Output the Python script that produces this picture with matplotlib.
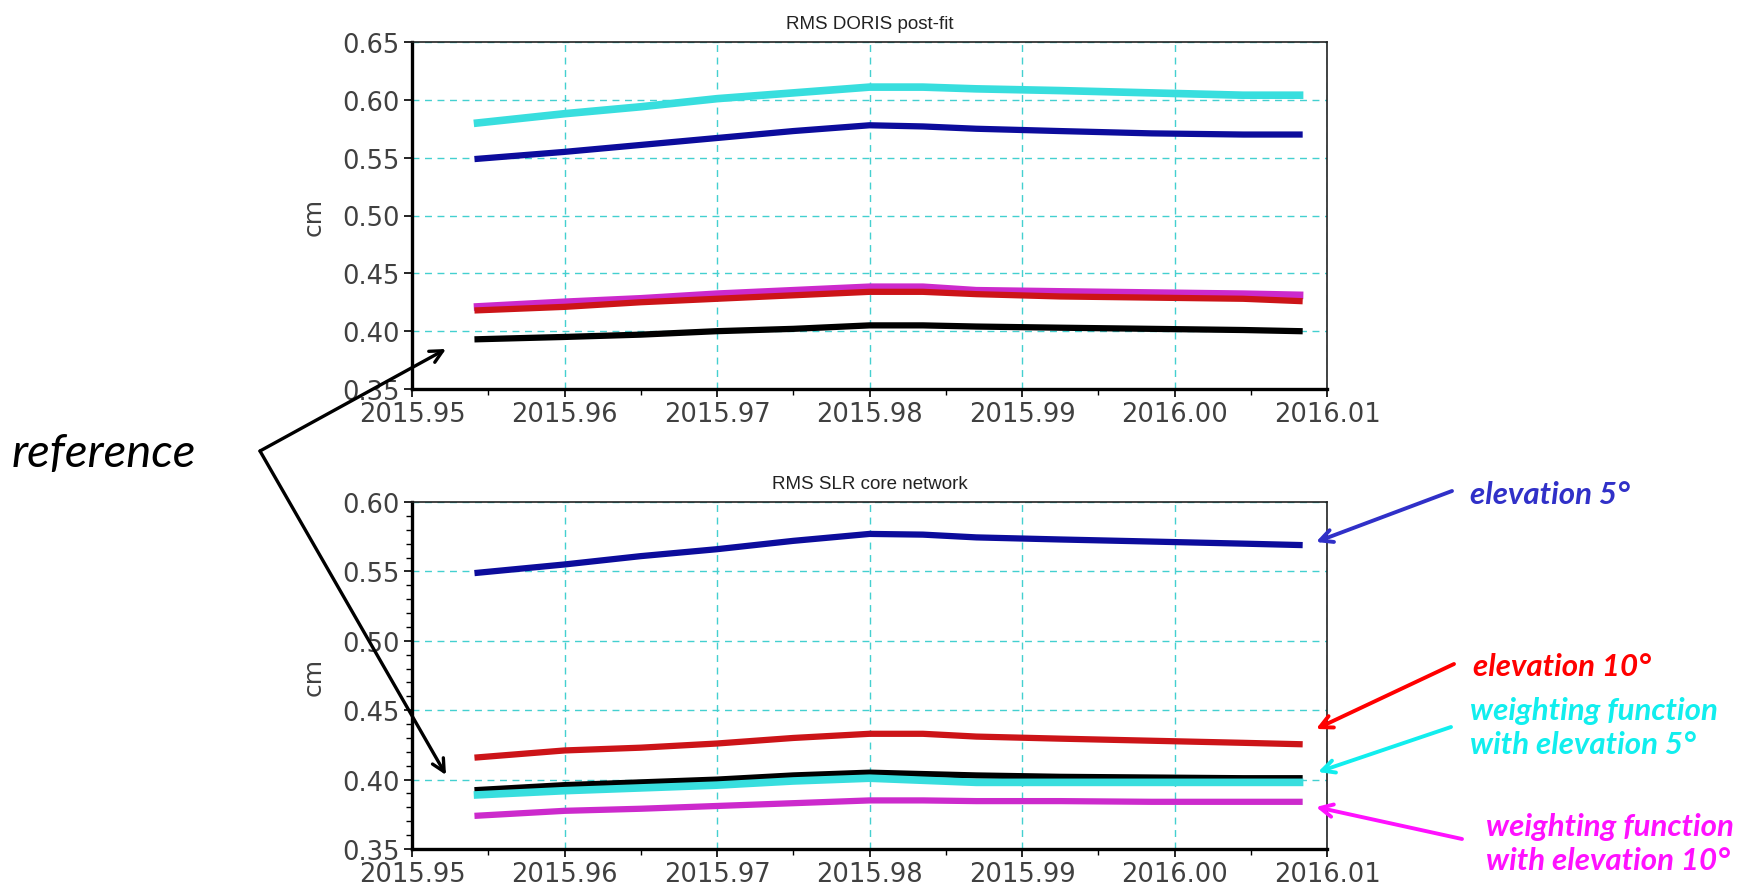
import matplotlib
matplotlib.use("Agg")
import matplotlib.pyplot as plt
from matplotlib.ticker import MultipleLocator, FormatStrFormatter

# Time axis (decimal years)
t = [2015.9543, 2015.96, 2015.965, 2015.97, 2015.975, 2015.98,
     2015.9835, 2015.987, 2015.9925, 2015.9985, 2016.0045, 2016.0082]

# RMS DORIS post-fit (cm)
doris_wf5 = [0.580, 0.588, 0.594, 0.601, 0.606, 0.611, 0.611, 0.6095, 0.608, 0.606, 0.604, 0.604]
doris_el5 = [0.549, 0.555, 0.561, 0.567, 0.573, 0.578, 0.577, 0.575, 0.573, 0.571, 0.570, 0.570]
doris_wf10 = [0.421, 0.425, 0.428, 0.432, 0.435, 0.438, 0.438, 0.435, 0.434, 0.433, 0.432, 0.431]
doris_el10 = [0.418, 0.421, 0.425, 0.428, 0.431, 0.434, 0.434, 0.432, 0.430, 0.429, 0.428, 0.426]
doris_ref = [0.393, 0.395, 0.397, 0.400, 0.402, 0.405, 0.405, 0.404, 0.403, 0.402, 0.401, 0.400]

# RMS SLR core network (cm)
slr_el5 = [0.549, 0.555, 0.561, 0.566, 0.572, 0.577, 0.5765, 0.5745, 0.573, 0.5715, 0.570, 0.569]
slr_el10 = [0.416, 0.421, 0.423, 0.426, 0.430, 0.433, 0.433, 0.431, 0.4295, 0.428, 0.4265, 0.4255]
slr_ref = [0.3925, 0.396, 0.398, 0.400, 0.403, 0.405, 0.404, 0.403, 0.402, 0.4015, 0.401, 0.401]
slr_wf5 = [0.389, 0.392, 0.394, 0.396, 0.399, 0.401, 0.3995, 0.398, 0.398, 0.398, 0.398, 0.398]
slr_wf10 = [0.374, 0.3775, 0.379, 0.381, 0.383, 0.385, 0.385, 0.3845, 0.3845, 0.384, 0.384, 0.384]

c_cyan = '#38dede'
c_blue = '#0c0c9c'
c_mag = '#cc2acc'
c_red = '#cc1418'
c_black = '#000000'
grid_c = '#44d0d0'
tick_c = '#404040'

W, H = 1748, 887
fig = plt.figure(figsize=(W / 100, H / 100), dpi=100)
fig.patch.set_facecolor('white')


def setup(ax, ylo, yhi, title, minor_y):
    ax.set_xlim(2015.95, 2016.01)
    ax.set_ylim(ylo, yhi)
    ax.xaxis.set_major_locator(MultipleLocator(0.01))
    ax.xaxis.set_minor_locator(MultipleLocator(0.005))
    ax.yaxis.set_major_locator(MultipleLocator(0.05))
    if minor_y:
        ax.yaxis.set_minor_locator(MultipleLocator(0.01))
    ax.xaxis.set_major_formatter(FormatStrFormatter('%.2f'))
    ax.yaxis.set_major_formatter(FormatStrFormatter('%.2f'))
    ax.grid(True, which='major', color=grid_c, linestyle=(0, (5, 4)), linewidth=1.0)
    ax.tick_params(axis='both', which='major', direction='out', length=6, width=1.2,
                   labelsize=18.5, labelcolor=tick_c, pad=3)
    ax.tick_params(axis='both', which='minor', direction='out', length=4, width=1.0)
    for lab in ax.get_xticklabels() + ax.get_yticklabels():
        lab.set_fontfamily('DejaVu Sans')
    ax.spines['left'].set_linewidth(2.4)
    ax.spines['bottom'].set_linewidth(2.4)
    ax.spines['top'].set_linewidth(1.2)
    ax.spines['right'].set_linewidth(1.2)
    ax.spines['top'].set_color('#222222')
    ax.spines['right'].set_color('#222222')
    ax.set_ylabel('cm', fontsize=18, color=tick_c, family='DejaVu Sans', labelpad=12)
    ax.set_title(title, fontsize=13.5, family='Liberation Sans', color='#222222', pad=10)


lw = 4.5
ax1 = fig.add_axes([412 / W, 1 - 390 / H, 915 / W, 347 / H])
setup(ax1, 0.35, 0.65, 'RMS DORIS post-fit', False)
ax1.plot(t, doris_wf5, color=c_cyan, lw=lw + 1)
ax1.plot(t, doris_el5, color=c_blue, lw=lw)
ax1.plot(t, doris_wf10, color=c_mag, lw=lw + 1)
ax1.plot(t, doris_el10, color=c_red, lw=lw)
ax1.plot(t, doris_ref, color=c_black, lw=lw)

ax2 = fig.add_axes([412 / W, 1 - 850 / H, 915 / W, 347 / H])
setup(ax2, 0.35, 0.60, 'RMS SLR core network', True)
ax2.plot(t, slr_el5, color=c_blue, lw=lw)
ax2.plot(t, slr_el10, color=c_red, lw=lw)
ax2.plot(t, slr_ref, color=c_black, lw=lw)
ax2.plot(t, slr_wf5, color=c_cyan, lw=lw + 1)
ax2.plot(t, slr_wf10, color=c_mag, lw=lw)

# overlay in pixel coordinates for the annotations
ov = fig.add_axes([0, 0, 1, 1], zorder=10)
ov.set_xlim(0, W)
ov.set_ylim(H, 0)
ov.axis('off')
ov.patch.set_alpha(0)

ov.text(12, 454, 'reference', fontsize=34, style='italic', family='Lato',
        ha='left', va='center', color='black')
ref_arrow = dict(arrowstyle='->,head_length=0.9,head_width=0.45', lw=2.4, color='black',
                 shrinkA=0, shrinkB=0)
ov.annotate('', xy=(446, 350), xytext=(260, 452), arrowprops=ref_arrow)
ov.annotate('', xy=(446, 776), xytext=(260, 452), arrowprops=ref_arrow)

labels = [
    ('elevation 5°', '#3030c8', (1470, 495), (1452, 492), (1316, 543)),
    ('elevation 10°', '#ff0000', (1473, 667), (1454, 665), (1316, 730)),
    ('weighting function\nwith elevation 5°', '#11eeee', (1470, 728), (1451, 728), (1318, 773)),
    ('weighting function\nwith elevation 10°', '#ff11ff', (1486, 844), (1462, 840), (1316, 808)),
]
for txt, col, tpos, a0, a1 in labels:
    ov.text(tpos[0], tpos[1], txt, fontsize=22.5, style='italic', weight='bold', family='Lato',
            color=col, ha='left', va='center', linespacing=1.3)
    ov.annotate('', xy=a1, xytext=a0,
                arrowprops=dict(arrowstyle='->,head_length=0.9,head_width=0.45', lw=2.8,
                                color=col, shrinkA=0, shrinkB=0))

fig.savefig('out.png', dpi=100, facecolor='white')
